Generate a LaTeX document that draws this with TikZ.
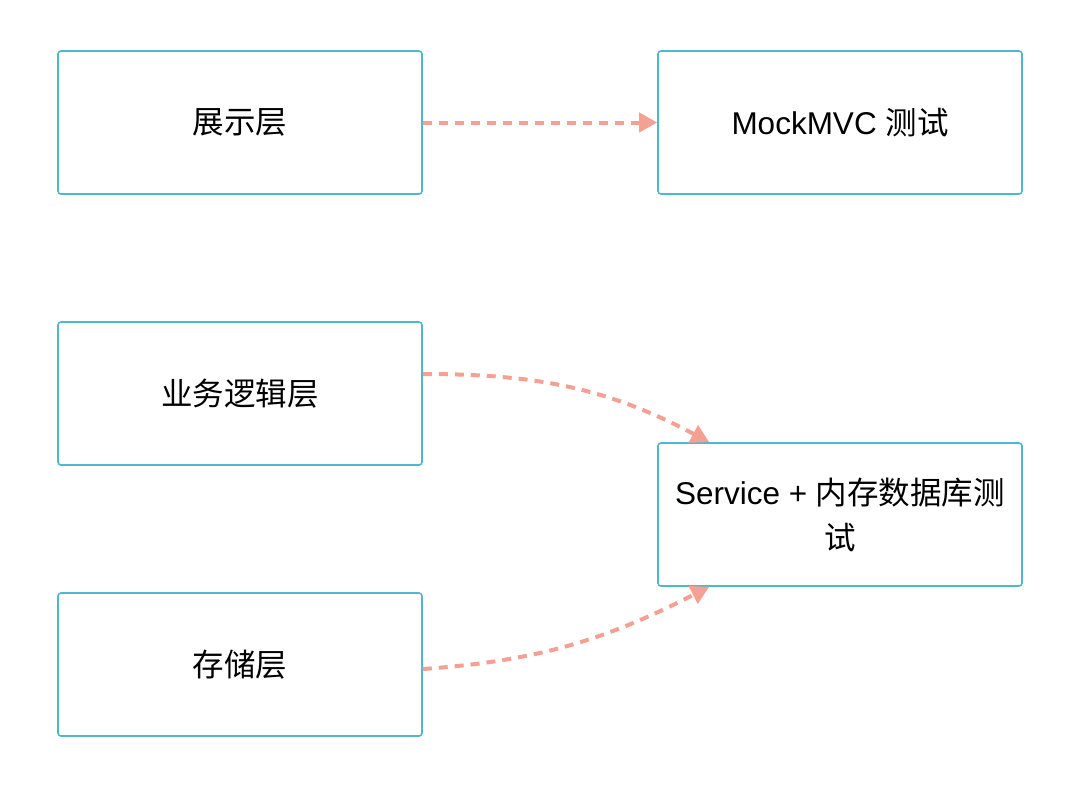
\documentclass[tikz,border=0pt]{standalone}
\usepackage{fontspec}
\setmainfont{Noto Sans CJK SC}
\newfontfamily\latin{Liberation Sans}
\usetikzlibrary{arrows.meta}
\definecolor{boxline}{HTML}{4FB8CC}
\definecolor{arrowpink}{HTML}{F4A092}

\begin{document}
\begin{tikzpicture}[x=1pt,y=-1pt,
    layer/.style={draw=boxline, line width=1.6pt, rounded corners=3pt,
        minimum width=364pt, minimum height=143pt, inner sep=0pt,
        align=center, font=\fontsize{31.5}{45}\selectfont},
    flow/.style={draw=arrowpink, line width=4pt, dash pattern=on 9pt off 7pt,
        -{Triangle[length=18pt,width=19pt]}}]
    \useasboundingbox (0,0) rectangle (1074,796);

    % layers on the left
    \node [layer] (show)  at (240,122.5) {展示层};
    \node [layer] (logic) at (240,393.5) {业务逻辑层};
    \node [layer] (store) at (240,664.5) {存储层};

    % tests on the right
    \node [layer] (mock) at (840,122.5) {{\latin MockMVC }测试};
    \node [layer] (svc)  at (840,514.5) {{\latin Service + }内存数据库测\\试};

    \draw [flow] (show) -- (mock);
    \draw [flow] ([yshift=19.5pt]logic.east) to [out=0,in=152] ([xshift=52pt]svc.north west);
    \draw [flow] ([yshift=-4.5pt]store.east) to [out=4,in=207] ([xshift=52pt]svc.south west);
\end{tikzpicture}
\end{document}
